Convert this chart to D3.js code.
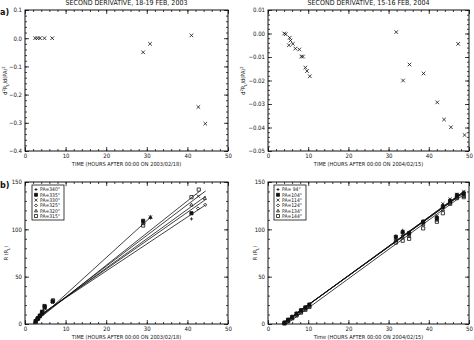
<!DOCTYPE html>
<html>
<head>
<meta charset="utf-8">
<script src="https://cdn.jsdelivr.net/npm/d3@7"></script>
<style>
  body { margin: 0; background: #fff; }
  svg { display: block; }
  text { font-family: "Liberation Sans Narrow", "DejaVu Sans Condensed", "Liberation Sans", sans-serif; fill: #111; }
  .tick line { stroke: #111; stroke-width: 0.8; }
</style>
</head>
<body>
<script>
var width = 474,
    height = 340;

// panel a, 2003
var a03Time = [2.5, 3.1, 3.7, 4.8, 6.7, 29.1, 30.8, 41.0, 42.7, 44.4];
var a03Deriv = [0, 0, 0, 0, 0, -0.05, -0.02, 0.01, -0.244, -0.303];

// panel a, 2004
var a04Time = [4.05, 4.4, 5.4, 5.6, 5.2, 6.2, 6.8, 7.8, 8.3, 8.7, 9.3, 9.7, 10.4,
               31.9, 33.6, 35.2, 38.7, 42.1, 43.8, 45.5, 47.3, 48.9];
var a04Deriv = [0.0000, -0.0003, -0.0018, -0.0030, -0.0050, -0.0044, -0.0064, -0.0068, -0.0098, -0.0098, -0.0145, -0.0160, -0.0182,
                0.0006, -0.0200, -0.0132, -0.0170, -0.0293, -0.0366, -0.0399, -0.0044, -0.0432];

// panel b, 2003 - one entry per position angle
var b03Labels = ["PA=340\u00b0", "PA=335\u00b0", "PA=330\u00b0", "PA=325\u00b0", "PA=320\u00b0", "PA=315\u00b0"];
var b03Times = [
    [2.6, 3.1, 3.6, 4.1, 4.8, 6.8, 29.1, 30.9, 41.0],
    [2.6, 3.2, 3.7, 4.2, 4.8, 6.8, 29.1, 41.0],
    [2.7, 3.1, 3.6, 4.1, 4.9, 6.8, 29.1, 30.9, 42.7],
    [2.6, 3.2, 3.6, 4.2, 4.8, 6.9, 29.2, 42.6, 44.4],
    [2.6, 3.1, 3.7, 4.1, 4.8, 6.8, 30.9, 41.0, 44.3],
    [2.7, 3.2, 3.6, 4.2, 4.9, 6.9, 29.1, 41.0, 42.8]
];
var b03Radii = [
    [3, 6, 9, 12, 18, 24, 107, 112, 111],
    [3, 6, 9, 13, 19, 24, 109, 117],
    [2, 5, 8, 11, 17, 23, 108, 113, 135],
    [3, 5, 8, 12, 16, 23, 106, 122, 126],
    [2, 5, 9, 11, 17, 24, 113, 126, 133],
    [3, 6, 8, 12, 18, 25, 104, 134, 142]
];
var b03Slope = [3.90, 3.40, 3.25, 3.10, 3.00, 2.85],
    b03Intercept = [-7.9, -6.0, -4.0, -3.0, -2.0, -1.0],
    b03Start = [2.5, 2.5, 2.5, 2.5, 2.5, 2.5],
    b03End = [31.0, 43.0, 44.5, 44.5, 44.5, 44.5];

// panel b, 2004
var b04Labels = ["PA= 94\u00b0", "PA=104\u00b0", "PA=114\u00b0", "PA=124\u00b0", "PA=134\u00b0", "PA=144\u00b0"];
var b04Time = [4.1, 5.0, 6.0, 7.1, 8.2, 9.3, 10.3, 31.8, 33.5, 35.1, 38.6, 42.0, 43.5, 45.3, 47.0, 48.7];
var b04Radii = [
    [2.0, 5.0, 8.0, 11.5, 15.0, 18.0, 21.0, 93, 99, 97, 109, 113, 126, 131, 137, 139],
    [1.5, 4.5, 7.5, 11.0, 14.5, 17.5, 20.5, 92, 97, 96, 108, 112, 124, 130, 136, 138],
    [1.0, 4.0, 7.0, 10.5, 14.0, 17.0, 20.0, 90, 95, 95, 107, 114, 127, 132, 137, 140],
    [1.5, 4.0, 7.5, 10.0, 13.5, 16.5, 19.5, 89, 93, 94, 106, 111, 123, 129, 135, 136],
    [1.0, 3.5, 6.5, 10.0, 13.0, 16.0, 19.0, 88, 92, 93, 105, 110, 121, 128, 134, 135],
    [0.5, 3.0, 6.0, 9.0, 12.0, 15.0, 18.0, 86, 88, 90, 101, 108, 117, 127, 133, 134]
];
var b04Slope = [3.09, 3.08, 3.10, 3.07, 3.06, 3.10],
    b04Intercept = [-10.6, -10.8, -11.0, -10.5, -10.4, -14.2],
    b04Start = [3.5, 3.5, 3.6, 3.5, 3.5, 4.6],
    b04End = [48.7, 48.7, 48.7, 48.7, 48.7, 48.7];

var symbolNames = ["plus", "fsquare", "cross", "diamond", "triangle", "square"];

var svg = d3.select("body").append("svg")
    .attr("width", width)
    .attr("height", height);

// marker paths
function symbolPath(name, s) {
    if (name === "plus") return "M" + (-s) + ",0H" + s + "M0," + (-s) + "V" + s;
    if (name === "cross") return "M" + (-s) + "," + (-s) + "L" + s + "," + s + "M" + (-s) + "," + s + "L" + s + "," + (-s);
    if (name === "diamond") return "M0," + (-s) + "L" + s + ",0L0," + s + "L" + (-s) + ",0Z";
    if (name === "triangle") return "M0," + (-s) + "L" + s + "," + (s * 0.8) + "L" + (-s) + "," + (s * 0.8) + "Z";
    return "M" + (-s) + "," + (-s) + "H" + s + "V" + s + "H" + (-s) + "Z";
}

function drawSymbol(g, name, x, y, s) {
    g.append("path")
        .attr("transform", "translate(" + x + "," + y + ")")
        .attr("d", symbolPath(name, s))
        .attr("fill", name === "fsquare" ? "#111" : "none")
        .attr("stroke", "#111")
        .attr("stroke-width", 0.8);
}

// panel frame with IDL-style inward ticks on all sides
function makePanel(opt) {
    var x = d3.scaleLinear().domain([0, 50]).range([opt.left, opt.right]),
        y = d3.scaleLinear().domain(opt.yDomain).range([opt.top, opt.bottom]);
    var g = svg.append("g");

    var xMajor = d3.range(0, 51, 10),
        xMinor = d3.range(0, 50.01, 2),
        yMajor = opt.yMajor,
        yMinor = opt.yMinor;

    g.append("g").attr("transform", "translate(0," + opt.bottom + ")")
        .call(d3.axisBottom(x).tickValues(xMinor).tickSize(-2).tickFormat(""));
    g.append("g").attr("transform", "translate(0," + opt.bottom + ")")
        .call(d3.axisBottom(x).tickValues(xMajor).tickSize(-4).tickPadding(3).tickFormat(d3.format("d")))
        .selectAll("text").attr("font-size", 6).attr("font-family", null);
    g.append("g").attr("transform", "translate(0," + opt.top + ")")
        .call(d3.axisTop(x).tickValues(xMinor).tickSize(-2).tickFormat(""));
    g.append("g").attr("transform", "translate(0," + opt.top + ")")
        .call(d3.axisTop(x).tickValues(xMajor).tickSize(-4).tickFormat(""));

    g.append("g").attr("transform", "translate(" + opt.left + ",0)")
        .call(d3.axisLeft(y).tickValues(yMinor).tickSize(-2).tickFormat(""));
    g.append("g").attr("transform", "translate(" + opt.left + ",0)")
        .call(d3.axisLeft(y).tickValues(yMajor).tickSize(-4).tickPadding(3).tickFormat(opt.yFormat))
        .selectAll("text").attr("font-size", 6).attr("font-family", null);
    g.append("g").attr("transform", "translate(" + opt.right + ",0)")
        .call(d3.axisRight(y).tickValues(yMinor).tickSize(-2).tickFormat(""));
    g.append("g").attr("transform", "translate(" + opt.right + ",0)")
        .call(d3.axisRight(y).tickValues(yMajor).tickSize(-4).tickFormat(""));

    g.selectAll(".domain").remove();

    g.append("rect")
        .attr("x", opt.left)
        .attr("y", opt.top)
        .attr("width", opt.right - opt.left)
        .attr("height", opt.bottom - opt.top)
        .attr("fill", "none")
        .attr("stroke", "#111")
        .attr("stroke-width", 1);

    g.append("text")
        .attr("x", (opt.left + opt.right) / 2)
        .attr("y", opt.xTitleY)
        .attr("text-anchor", "middle")
        .attr("font-size", 5.6)
        .text(opt.xTitle);

    var yt = g.append("text")
        .attr("transform", "translate(" + opt.yTitleX + "," + ((opt.top + opt.bottom) / 2) + ") rotate(-90)")
        .attr("text-anchor", "middle")
        .attr("font-size", 5.6);
    opt.yTitle(yt);

    if (opt.title) {
        g.append("text")
            .attr("x", (opt.left + opt.right) / 2)
            .attr("y", 4.5)
            .attr("text-anchor", "middle")
            .attr("font-size", 7)
            .text(opt.title);
    }
    return {g: g, x: x, y: y};
}

function derivTitle(t) {
    t.append("tspan").text("d");
    t.append("tspan").attr("dy", -2).attr("font-size", 4).text("2");
    t.append("tspan").attr("dy", 2).text("R");
    t.append("tspan").attr("dy", 1.5).attr("font-size", 4).text("L");
    t.append("tspan").attr("dy", -1.5).text("/d(PA)");
    t.append("tspan").attr("dy", -2).attr("font-size", 4).text("2");
}

function radiusTitle(t) {
    t.append("tspan").text("R (R");
    t.append("tspan").attr("dy", 1.5).attr("font-size", 4).text("L");
    t.append("tspan").attr("dy", -1.5).text(")");
}

// a) left
var pA1 = makePanel({
    left: 25, right: 228, top: 10, bottom: 151,
    yDomain: [0.1, -0.4],
    yMajor: [0.1, 0, -0.1, -0.2, -0.3, -0.4],
    yMinor: d3.range(-0.4, 0.1001, 0.02),
    yFormat: d3.format(".1f"),
    xTitle: "TIME (HOURS AFTER 00:00 ON 2003/02/18)", xTitleY: 166,
    yTitle: derivTitle, yTitleX: 7,
    title: "SECOND DERIVATIVE, 18-19 FEB, 2003"
});
a03Time.forEach(function(t, i) {
    drawSymbol(pA1.g, "cross", pA1.x(t), pA1.y(a03Deriv[i]), 1.8);
});

// a) right
var pA2 = makePanel({
    left: 268, right: 469, top: 10, bottom: 151,
    yDomain: [0.01, -0.05],
    yMajor: [0.01, 0, -0.01, -0.02, -0.03, -0.04, -0.05],
    yMinor: d3.range(-0.05, 0.01001, 0.002),
    yFormat: d3.format(".2f"),
    xTitle: "TIME (HOURS AFTER 00:00 ON 2004/02/15)", xTitleY: 166,
    yTitle: derivTitle, yTitleX: 245,
    title: "SECOND DERIVATIVE, 15-16 FEB, 2004"
});
a04Time.forEach(function(t, i) {
    drawSymbol(pA2.g, "cross", pA2.x(t), pA2.y(a04Deriv[i]), 1.8);
});

// b) left
var pB1 = makePanel({
    left: 25, right: 228, top: 182, bottom: 324,
    yDomain: [150, 0],
    yMajor: [0, 50, 100, 150],
    yMinor: d3.range(0, 151, 10),
    yFormat: d3.format("d"),
    xTitle: "TIME (HOURS AFTER 00:00 ON 2003/02/18)", xTitleY: 339,
    yTitle: radiusTitle, yTitleX: 8
});
b03Slope.forEach(function(m, i) {
    pB1.g.append("line")
        .attr("x1", pB1.x(b03Start[i])).attr("y1", pB1.y(m * b03Start[i] + b03Intercept[i]))
        .attr("x2", pB1.x(b03End[i])).attr("y2", pB1.y(m * b03End[i] + b03Intercept[i]))
        .attr("stroke", "#111").attr("stroke-width", 0.8);
    b03Times[i].forEach(function(t, j) {
        drawSymbol(pB1.g, symbolNames[i], pB1.x(t), pB1.y(b03Radii[i][j]), 1.6);
    });
});

// b) right
var pB2 = makePanel({
    left: 268, right: 469, top: 182, bottom: 324,
    yDomain: [150, 0],
    yMajor: [0, 50, 100, 150],
    yMinor: d3.range(0, 151, 10),
    yFormat: d3.format("d"),
    xTitle: "Time (HOURS AFTER 00:00 ON 2004/02/15)", xTitleY: 339,
    yTitle: radiusTitle, yTitleX: 257
});
b04Slope.forEach(function(m, i) {
    pB2.g.append("line")
        .attr("x1", pB2.x(b04Start[i])).attr("y1", pB2.y(m * b04Start[i] + b04Intercept[i]))
        .attr("x2", pB2.x(b04End[i])).attr("y2", pB2.y(m * b04End[i] + b04Intercept[i]))
        .attr("stroke", "#111").attr("stroke-width", 0.8);
    b04Time.forEach(function(t, j) {
        drawSymbol(pB2.g, symbolNames[i], pB2.x(t), pB2.y(b04Radii[i][j]), 1.6);
    });
});

// legends
function drawLegend(panel, labels, x0, y0) {
    var lg = panel.g.append("g");
    lg.append("rect")
        .attr("x", x0).attr("y", y0)
        .attr("width", 32).attr("height", 35)
        .attr("fill", "#fff")
        .attr("stroke", "#111")
        .attr("stroke-width", 0.8);
    labels.forEach(function(lab, i) {
        var yy = y0 + 4.5 + i * 5.3;
        drawSymbol(lg, symbolNames[i], x0 + 4, yy, 1.5);
        lg.append("text")
            .attr("x", x0 + 8)
            .attr("y", yy + 1.8)
            .attr("font-size", 5)
            .attr("xml:space", "preserve")
            .style("white-space", "pre")
            .text(lab);
    });
}
drawLegend(pB1, b03Labels, 32, 185);
drawLegend(pB2, b04Labels, 274, 185);

// panel letters
svg.append("text").attr("x", 0).attr("y", 15).attr("font-size", 9).attr("font-weight", "bold").text("a)");
svg.append("text").attr("x", 0).attr("y", 188).attr("font-size", 9).attr("font-weight", "bold").text("b)");
</script>
</body>
</html>
